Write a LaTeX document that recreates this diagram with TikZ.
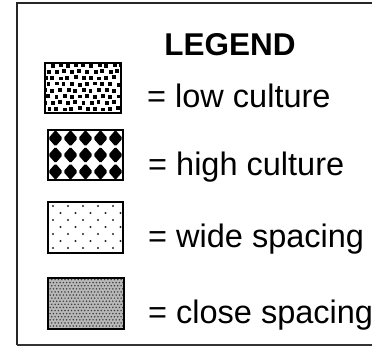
\documentclass[tikz,border=0pt]{standalone}
\usepackage{fontspec}
\setmainfont{Liberation Sans}
\begin{document}
\begin{tikzpicture}[x=1pt,y=-1pt,
  swatch/.style={draw=black,line width=2.8pt},
  label/.style={anchor=base west,inner sep=0pt,font=\fontsize{32.5}{38}\selectfont},
  title/.style={anchor=base,inner sep=0pt,font=\fontsize{31.5}{38}\selectfont\bfseries}]
\clip (0,0) rectangle (372,348);
\fill[white] (0,0) rectangle (372,348);
% outer frame (open to the right)
\draw[line width=2pt,black!85] (17,345) -- (17,3) -- (380,3);
\draw[line width=1.2pt,black!80] (17,345) -- (380,345);

\node[title] (legend) at (230,55) {LEGEND};

% low culture: slightly jittered staggered squares
\begin{scope}
\clip (45,63) rectangle (121,113);
\foreach \j in {0,...,8}{
  \foreach \i in {0,...,10}{
    \pgfmathsetmacro\px{43+7.7*\i+3.85*mod(\j,2)+0.35*(mod(37*\i+17*\j,5)-2)}
    \pgfmathsetmacro\py{63.5+6.2*\j+0.3*(mod(13*\i+29*\j,5)-2)}
    \fill (\px,\py) rectangle ++(3.9,3.9);
  }}
\end{scope}
\draw[swatch] (45,63) rectangle (121,113);
\node[label] (low) at (147,107) {= low culture};

% high culture: checkerboard of diamonds
\begin{scope}
\clip (48,130) rectangle (123,180);
\foreach \i in {0,...,4}{
  \foreach \j in {0,...,2}{
    \pgfmathsetmacro\cx{55.5+15*\i}
    \pgfmathsetmacro\cy{138.3+16.7*\j}
    \fill[rounded corners=1.5pt] (\cx-7.2,\cy) -- (\cx,\cy-8.2) -- (\cx+7.2,\cy) -- (\cx,\cy+8.2) -- cycle;
  }}
\end{scope}
\draw[swatch] (48,130) rectangle (123,180);
\node[label] (high) at (148,175) {= high culture};

% wide spacing: sparse staggered dots
\begin{scope}
\clip (48,202) rectangle (123,253);
\foreach \j in {0,...,6}{
  \foreach \i in {0,...,5}{
    \pgfmathsetmacro\px{53+15*\i+7.5*mod(\j,2)}
    \pgfmathsetmacro\py{206+7*\j}
    \fill[black!85] (\px,\py) circle (1.05);
  }}
\end{scope}
\draw[swatch] (48,202) rectangle (123,253);
\node[label] (wide) at (148,247) {= wide spacing};

% close spacing: dense dot screen
\begin{scope}
\clip (48,278) rectangle (124,329);
\fill[black!28] (48,278) rectangle (124,329);
\foreach \j in {0,...,16}{
  \foreach \i in {0,...,23}{
    \pgfmathsetmacro\px{48.5+3.3*\i+1.65*mod(\j,2)}
    \pgfmathsetmacro\py{279.5+3.1*\j}
    \fill[black!75] (\px,\py) circle (0.85);
  }}
\end{scope}
\draw[swatch] (48,278) rectangle (124,329);
\node[label] (close) at (148,323) {= close spacing};
\end{tikzpicture}
\end{document}
